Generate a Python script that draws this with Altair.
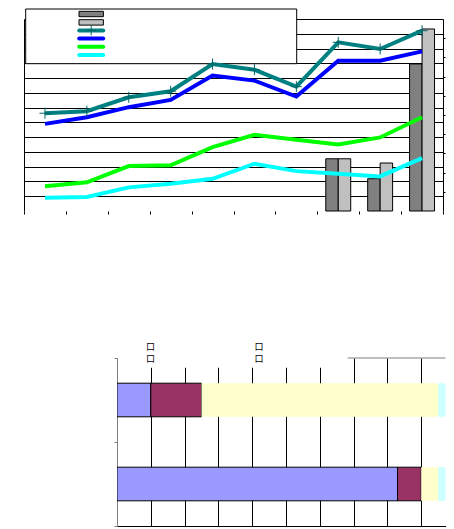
import altair as alt
import pandas as pd

# ---------------- top chart data ----------------
categories = ["1", "2", "3", "4", "5", "6", "7", "8", "9", "10"]
line_series = ["Series A", "Series B", "Series C", "Series D"]
line_colors = ["#008080", "#0000FF", "#00FF00", "#00FFFF"]
series_a = [6.62, 6.76, 7.70, 8.11, 9.95, 9.57, 8.42, 11.42, 10.97, 12.21]
series_b = [5.90, 6.35, 7.03, 7.52, 9.17, 8.83, 7.75, 10.18, 10.18, 10.81]
series_c = [1.67, 1.94, 3.04, 3.09, 4.32, 5.16, 4.82, 4.50, 4.98, 6.35]
series_d = [0.90, 0.95, 1.60, 1.85, 2.18, 3.20, 2.70, 2.52, 2.34, 3.58]

bar_series = ["Bar A", "Bar B"]
bar_colors = ["#808080", "#C0C0C0"]
bar_categories = ["8", "9", "10"]
bar_a = [2.72, 1.68, 7.66]
bar_b = [2.72, 2.50, 9.48]

# ---------------- bottom chart data ----------------
rows = ["Row 1", "Row 2"]
segments = ["S1", "S2", "S3", "S4"]
seg_colors = ["#9999FF", "#993366", "#FFFFCC", "#CCFFFF"]
seg_strokes = ["black", "black", "transparent", "transparent"]
row1 = [10, 15, 70, 5]
row2 = [83, 7, 5, 5]
tofu_labels = ["口\n口", "口\n口"]

# ---------------- tables ----------------
line_recs = []
for name, vals in zip(line_series, [series_a, series_b, series_c, series_d]):
    for c, v in zip(categories, vals):
        line_recs.append({"cat": c, "series": name, "value": v})
line_df = pd.DataFrame(line_recs)

bar_recs = []
for name, vals in zip(bar_series, [bar_a, bar_b]):
    for c, v in zip(bar_categories, vals):
        bar_recs.append({"cat": c, "series": name, "value": v})
bar_df = pd.DataFrame(bar_recs)

seg_recs = []
for r, vals in zip(rows, [row1, row2]):
    for i, (s, v) in enumerate(zip(segments, vals)):
        seg_recs.append({"row": r, "seg": s, "value": v, "ord": i})
seg_df = pd.DataFrame(seg_recs)

one = pd.DataFrame({"a": [0]})

# ---------------- top chart ----------------
x_enc = alt.X(
    "cat:N", sort=categories,
    scale=alt.Scale(domain=categories, paddingInner=0, paddingOuter=0),
    axis=alt.Axis(labels=False, domain=False, ticks=True, tickSize=3,
                  tickBand="extent", tickColor="black", grid=False, title=None),
)

left_axis = alt.Axis(orient="left", values=list(range(1, 14)), labels=False,
                     ticks=False, grid=True, gridColor="black", gridOpacity=1,
                     gridWidth=1, domainColor="black", title=None)
y_left = alt.Y("value:Q", scale=alt.Scale(domain=[0, 13], nice=False, zero=True),
               axis=left_axis)

lines = alt.Chart(line_df).mark_line(strokeWidth=4).encode(
    x=x_enc,
    y=y_left,
    stroke=alt.Stroke("series:N",
                      scale=alt.Scale(domain=line_series, range=line_colors),
                      legend=None),
)

markers = alt.Chart(line_df).transform_filter(
    alt.datum.series == line_series[0]
).mark_point(shape="M0,-1V1M-1,0H1", size=121, strokeWidth=1,
             color="#006666", filled=False, opacity=1).encode(
    x=x_enc,
    y=y_left,
)

bars = alt.Chart(bar_df).mark_bar(stroke="black", strokeWidth=1).encode(
    x=x_enc,
    xOffset=alt.XOffset("series:N",
                        scale=alt.Scale(domain=bar_series, paddingInner=0,
                                        paddingOuter=0.68)),
    y=alt.Y("value:Q", scale=alt.Scale(domain=[0, 10], nice=False, zero=True),
            axis=alt.Axis(orient="right", values=list(range(1, 10)),
                          labels=False, ticks=True, tickSize=2,
                          tickColor="black", domainColor="black", grid=False,
                          title=None)),
    fill=alt.Fill("series:N",
                  scale=alt.Scale(domain=bar_series, range=bar_colors),
                  legend=None),
)

# legend box (white, black border) and its symbols
frame = alt.Chart(one).mark_rect(fill="white", stroke="black",
                                 strokeWidth=1).encode(
    x=alt.value(1.7), x2=alt.value(272.7),
    y=alt.value(-10), y2=alt.value(44.7),
)

legend_x = 67.2
legend_y = [-5, 3.4, 11.4, 19.6, 27.8, 36]
legend_layers = []
for i, col in enumerate(bar_colors):
    legend_layers.append(
        alt.Chart(one).mark_point(
            shape="M-12.2,-2.7H12.2V2.7H-12.2Z", size=4, filled=True,
            fill=col, stroke="black", strokeWidth=1, opacity=1
        ).encode(x=alt.value(legend_x), y=alt.value(legend_y[i]))
    )
for i, col in enumerate(line_colors):
    legend_layers.append(
        alt.Chart(one).mark_point(
            shape="M-12,0H12", size=4, filled=False, stroke=col,
            strokeWidth=4, strokeCap="round", opacity=1
        ).encode(x=alt.value(legend_x), y=alt.value(legend_y[2 + i]))
    )
legend_layers.append(
    alt.Chart(one).mark_point(
        shape="M0,-1V1M-1,0H1", size=100, strokeWidth=1, color="#006666",
        filled=False, opacity=1
    ).encode(x=alt.value(legend_x), y=alt.value(legend_y[2]))
)

top = alt.layer(frame, *legend_layers, bars,
                alt.layer(lines, markers)).resolve_scale(
    y="independent"
).properties(width=419, height=192)

# ---------------- bottom chart ----------------
bottom_width = 328.5
stacked = alt.Chart(seg_df).mark_bar(height={"band": 0.4}, strokeWidth=1,
                                     clip=True).encode(
    y=alt.Y("row:N", sort=rows,
            scale=alt.Scale(domain=rows, paddingInner=0, paddingOuter=0),
            axis=alt.Axis(orient="left", labels=False, ticks=True, tickSize=3,
                          tickBand="extent", tickColor="#808080",
                          domainColor="#808080", grid=False, title=None)),
    x=alt.X("value:Q", stack="zero",
            scale=alt.Scale(domain=[0, 97.2], nice=False),
            axis=alt.Axis(values=list(range(10, 100, 10)), labels=False,
                          ticks=False, grid=True, gridColor="black",
                          gridOpacity=1, gridWidth=1, domainColor="black",
                          title=None)),
    fill=alt.Fill("seg:N", scale=alt.Scale(domain=segments, range=seg_colors),
                  legend=None),
    stroke=alt.Stroke("seg:N",
                      scale=alt.Scale(domain=segments, range=seg_strokes),
                      legend=None),
    order=alt.Order("ord:Q"),
)

white_box = alt.Chart(one).mark_rect(fill="white").encode(
    x=alt.value(1), x2=alt.value(230.7),
    y=alt.value(-22), y2=alt.value(9.7),
)

# gray top border of the plot area, visible right of the hidden legend box
top_border = alt.Chart(one).mark_rule(color="#808080", strokeWidth=1).encode(
    x=alt.value(230.7), x2=alt.value(bottom_width), y=alt.value(0),
)

tofu1 = alt.Chart(one).mark_text(
    text=tofu_labels[0], lineBreak="\n", fontSize=9, lineHeight=12,
    font="Noto Sans CJK SC", color="black", baseline="middle", align="center"
).encode(x=alt.value(33.5), y=alt.value(-11))

tofu2 = alt.Chart(one).mark_text(
    text=tofu_labels[1], lineBreak="\n", fontSize=9, lineHeight=12,
    font="Noto Sans CJK SC", color="black", baseline="middle", align="center"
).encode(x=alt.value(142), y=alt.value(-11))

bottom = alt.layer(stacked, white_box, top_border, tofu1, tofu2).properties(
    width=bottom_width, height=168,
)


def spacer(w):
    return alt.Chart(one).mark_point(opacity=0).encode(
        x=alt.X("a:Q", axis=None), y=alt.Y("a:Q", axis=None)
    ).properties(width=w, height=10)


top_row = alt.hconcat(spacer(15), top, spacing=0).resolve_scale(
    fill="independent", stroke="independent"
)
bottom_row = alt.hconcat(spacer(104.5), bottom, spacing=0).resolve_scale(
    fill="independent", stroke="independent"
)

chart = alt.vconcat(
    top_row,
    bottom_row,
    spacing=121,
).resolve_scale(
    fill="independent", stroke="independent"
).properties(
    padding=0,
).configure_view(stroke=None)

chart.save("out.html", embed_options={"renderer": "svg", "actions": False})
